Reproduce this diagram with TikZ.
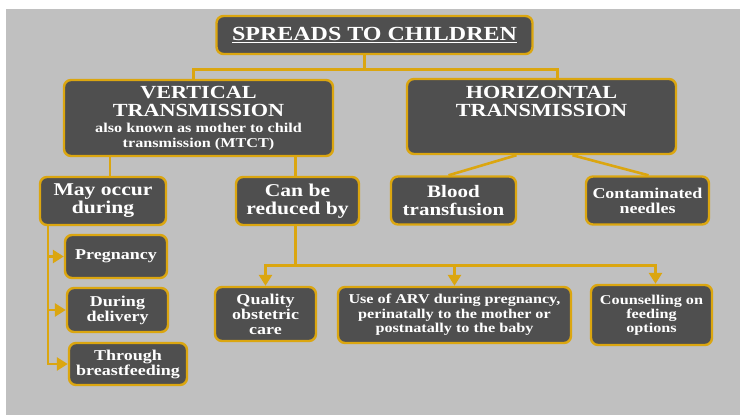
\documentclass[tikz,border=0pt]{standalone}
\usepackage{fontspec}
\setmainfont[FakeStretch=1.2]{Liberation Serif}
\usetikzlibrary{arrows.meta}

\definecolor{panel}{RGB}{192,192,192}
\definecolor{boxfill}{RGB}{79,79,79}
\definecolor{gold}{RGB}{219,166,16}

\newcommand{\hdr}{\fontsize{18.5}{18}\selectfont}
\newcommand{\sml}{\fontsize{13.5}{15}\selectfont}

\tikzset{
    box/.style={draw=gold, line width=2.4pt, fill=boxfill, rounded corners=7pt,
        text=white, font=\bfseries, align=center, inner sep=1pt},
    link/.style={draw=gold, line width=2.6pt},
}

\begin{document}
\begin{tikzpicture}[x=1pt, y=-1pt, >={Triangle[length=11pt,width=13pt]}, semithick]

        \useasboundingbox (0,0) rectangle (740,415);
        \fill[panel] (6,9) rectangle (740,415);

        % Levels
        \node[box, minimum width=316, minimum height=38, font=\bfseries\fontsize{20}{22}\selectfont]
            (top) at (374.5,35) {\underline{SPREADS TO CHILDREN}};
        \node[box, minimum width=269, minimum height=76, font=\bfseries\hdr]
            (vert) at (198.5,118) {VERTICAL\\TRANSMISSION\\[-2pt]\sml also known as mother to child\\[-3pt]\sml transmission (MTCT)};
        \node[box, minimum width=269, minimum height=75, font=\bfseries\hdr]
            (horiz) at (541.5,116.5) {HORIZONTAL\\TRANSMISSION\\[-2pt]\sml\phantom{x}\\[-3pt]\sml\phantom{x}};

        % Vertical branch
        \node[box, minimum width=126, minimum height=48, font=\bfseries\fontsize{18}{18}\selectfont]
            (may) at (103,201) {May occur\\during};
        \node[box, minimum width=123, minimum height=48, font=\bfseries\fontsize{18}{18}\selectfont]
            (can) at (297.5,201) {Can be\\reduced by};
        \node[box, minimum width=102, minimum height=43, font=\bfseries\fontsize{15}{15}\selectfont]
            (preg) at (116,256.5) {Pregnancy};
        \node[box, minimum width=101, minimum height=44, font=\bfseries\fontsize{15}{15}\selectfont]
            (deliv) at (117.5,310) {During\\delivery};
        \node[box, minimum width=118, minimum height=42, font=\bfseries\fontsize{15}{15}\selectfont]
            (breast) at (128,364) {Through\\breastfeeding};
        \node[box, minimum width=101, minimum height=54, font=\bfseries\fontsize{15}{15}\selectfont]
            (quality) at (265.5,314) {Quality\\obstetric\\care};
        \node[box, minimum width=233, minimum height=56, font=\bfseries\fontsize{13.5}{14.5}\selectfont]
            (arv) at (454.5,315) {Use of ARV during pregnancy,\\perinatally to the mother or\\postnatally to the baby};
        \node[box, minimum width=121, minimum height=60, font=\bfseries\fontsize{13.5}{14}\selectfont]
            (couns) at (651.5,315) {Counselling on\\feeding\\options};

        % Horizontal branch
        \node[box, minimum width=125, minimum height=48, font=\bfseries\fontsize{17.5}{18}\selectfont]
            (blood) at (453.5,200.5) {Blood\\transfusion};
        \node[box, minimum width=123, minimum height=48, font=\bfseries\fontsize{15}{15}\selectfont]
            (needles) at (647.5,200.5) {Contaminated\\needles};

        % Links
        \draw[link] ([xshift=-10]top.south) -- ++(0,14) coordinate (split)
            -| ([xshift=-5]vert.north);
        \draw[link] (split) -| ([xshift=16]horiz.north);
        \draw[link] ([xshift=7]may.north) -- ([xshift=7]may.north |- vert.south);
        \draw[link] ([xshift=-2]can.north) -- ([xshift=-2]can.north |- vert.south);
        \draw[link] ([xshift=-25]horiz.south) -- ([xshift=-5]blood.north);
        \draw[link] ([xshift=31]horiz.south) -- ([xshift=1]needles.north);

        \coordinate (spine) at ([xshift=-55]may.south);
        \draw[link, ->] (spine) |- (breast.west);
        \draw[link, ->] (spine |- preg.west) -- (preg.west);
        \draw[link, ->] (spine |- deliv.west) -- (deliv.west);

        \draw[link] ([xshift=-2]can.south) -- ++(0,39) coordinate (bar);
        \draw[link, ->] (bar) -| (quality.north);
        \draw[link, ->] (bar) -| (arv.north);
        \draw[link, ->] (bar) -| ([xshift=4]couns.north);

    \end{tikzpicture}
\end{document}
